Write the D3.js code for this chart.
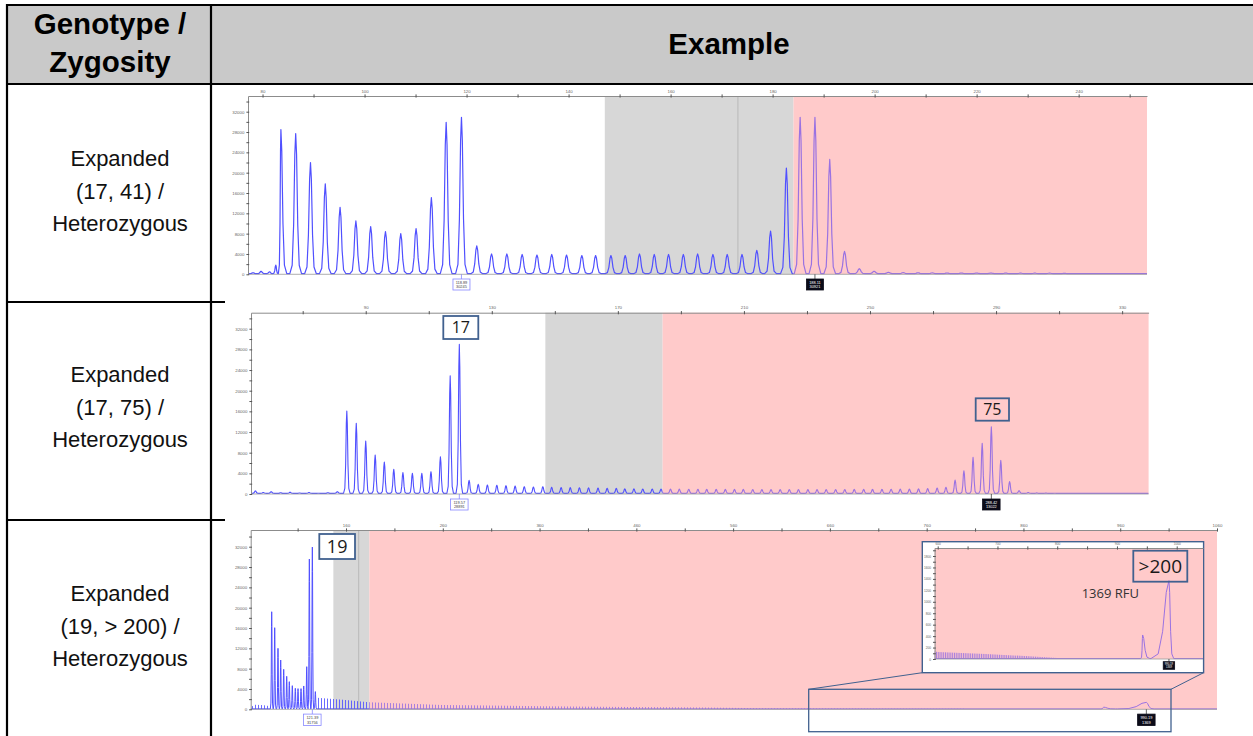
<!DOCTYPE html>
<html lang="en">
<head>
<meta charset="UTF-8">
<title>Genotype / Zygosity examples</title>
<script src="https://cdn.jsdelivr.net/npm/d3@7"></script>
<style>
  body { margin: 0; background: #fff; }
  svg { display: block; font-family: "Liberation Sans", Arial, sans-serif; }
</style>
</head>
<body>
<svg id="chart" width="1253" height="736"></svg>
<script>
// ---------- table text ----------
const headerLeft = ['Genotype /', 'Zygosity'];
const headerRight = 'Example';
const genotypes = [
  ['Expanded', '(17, 41) /', 'Heterozygous'],
  ['Expanded', '(17, 75) /', 'Heterozygous'],
  ['Expanded', '(19, > 200) /', 'Heterozygous']
];

// ---------- panel 1 : (17, 41) ----------  [size, RFU]
const peaks1 = [
  [78.2, 300], [79.7, 600], [81.4, 500], [82.6, 1800], [83.6, 28500], [86.5, 27700], [89.4, 22000],
  [92.3, 17800], [95.2, 13200], [98.3, 10500], [101.2, 9400], [104.1, 8400], [107.1, 8000],
  [110.1, 9000], [113.1, 15100], [116.0, 29900], [119.0, 30900], [122.0, 5600], [124.9, 4000],
  [127.9, 4000], [130.9, 3900], [133.8, 3800], [136.7, 3900], [139.6, 3800], [142.6, 3700],
  [145.3, 3700], [148.3, 3700], [151.1, 3700], [153.9, 4000], [156.8, 3900], [159.6, 3900],
  [162.5, 3900], [165.3, 4000], [168.3, 3900], [171.1, 3900], [174.0, 3900], [176.9, 4700],
  [179.6, 8500], [182.7, 20900], [185.4, 30900], [188.3, 30900], [191.2, 22600], [194.1, 4500],
  [197.0, 1100], [199.9, 600], [202.7, 400], [205.6, 330], [208.5, 300], [211.3, 280], [214.2, 260],
  [217.0, 260], [220.0, 250], [222.8, 250], [225.7, 240], [228.6, 230], [231.4, 230], [234.3, 220],
  [237.2, 210]
];
const xLabels1 = [80, 100, 120, 140, 160, 180, 200, 220, 240];
const xTicks1 = [80, 90, 100, 110, 120, 130, 140, 150, 160, 170, 180, 190, 200, 210, 220, 230, 240, 250];
const gray1 = [147.1, 184.1];
const grayLine1 = 173.2;
const calls1 = [
  { at: 119.0, lines: ['118.89', '30245'], dark: false },
  { at: 188.3, lines: ['188.11', '30921'], dark: true }
];

// ---------- panel 2 : (17, 75) ----------
const peaks2 = [
  [55, 600], [57.5, 300], [60, 450], [63, 250], [66, 350], [69, 200], [72, 300], [75, 150], [78, 250],
  [81, 450], [84.0, 16060], [87.0, 13670], [90.0, 10250], [93.0, 7550], [95.9, 6190], [98.9, 4770],
  [101.8, 4130], [104.8, 4000], [107.8, 4000], [110.7, 4320], [113.7, 7220], [116.8, 22900],
  [119.7, 28960], [122.8, 2640], [125.7, 1870], [128.6, 1740], [131.6, 1680], [134.5, 1610],
  [137.4, 1550], [140.3, 1420], [143.2, 1350], [146.2, 1420], [149.0, 1290], [152.0, 1250],
  [154.9, 1230], [157.8, 1200], [160.7, 1180], [163.7, 1150], [166.6, 1120], [169.5, 1080],
  [172.2, 1000], [175.1, 980], [177.9, 970], [180.9, 960], [183.7, 950], [186.7, 940], [189.5, 930],
  [192.5, 920], [195.4, 910], [198.2, 900], [201.2, 900], [204.1, 890], [207.0, 880], [209.8, 880],
  [212.8, 870], [215.7, 870], [218.6, 860], [221.5, 860], [224.4, 860], [227.3, 850], [230.3, 850],
  [233.2, 850], [236.1, 860], [239.1, 860], [242.0, 870], [245.0, 880], [248.0, 880], [250.8, 900],
  [253.8, 900], [256.7, 920], [259.6, 930], [262.5, 950], [265.4, 1000], [268.3, 1050], [271.3, 1150],
  [274.1, 1300], [277.0, 2700], [279.8, 4500], [282.7, 7100], [285.6, 9800], [288.5, 13000],
  [291.5, 6500], [294.3, 2400], [297.3, 650], [300.2, 300], [302.9, 220], [305.8, 180], [308.6, 150]
];
const xLabels2 = [90, 130, 170, 210, 250, 290, 330];
const xTicks2 = [70, 90, 110, 130, 150, 170, 190, 210, 230, 250, 270, 290, 310, 330];
const gray2 = [147.0, 184.2];
const calls2 = [
  { at: 119.7, lines: ['119.57', '28891'], dark: false },
  { at: 288.5, lines: ['288.42', '13022'], dark: true }
];

// ---------- panel 3 : (19, >200) ----------
const peaks3 = [
  [83.2, 19200], [86.3, 16060], [89.7, 12000], [92.5, 9700], [95.6, 7870], [98.7, 6490],
  [101.4, 5440], [104.5, 4650], [107.6, 4130], [110.4, 4070], [113.5, 4070], [116.3, 4590],
  [119.4, 8390], [122.1, 29570], [125.2, 31930], [128.3, 3480],
  [943, 420, 3, 12], [987, 1369, 30, 8]
];
// stutter ladder envelope (too dense to read peak by peak)
const noise3 = [[62, 0], [63, 500], [66, 800], [72, 750], [78, 650], [81, 450], [82, 0]];
const ladder3 = [
  [129.5, 0], [130, 2200], [157, 1800], [184, 1300], [260, 750], [364, 520], [453, 380], [530, 260],
  [600, 115], [680, 80], [760, 35], [800, 10], [801, 0]
];
const xLabels3 = [160, 260, 360, 460, 560, 660, 760, 860, 960, 1060];
const xTicks3 = [110, 160, 210, 260, 310, 360, 410, 460, 510, 560, 610, 660, 710, 760, 810, 860, 910, 960, 1010, 1060];
const gray3 = [146.9, 184.1];
const grayLine3 = 173.1;
const calls3 = [
  { at: 125.2, lines: ['121.39', '31756'], dark: false },
  { at: 987, lines: ['990.19', '1369'], dark: true }
];
const xLabelsInset = [600, 700, 800, 900, 1000];
const xTicksInset = [600, 650, 700, 750, 800, 850, 900, 950, 1000];
const yLabelsInset = [0, 200, 400, 600, 800, 1000, 1200, 1400, 1600, 1800];
const yTicksInset = d3.range(0, 1901, 100);
const callsInset = [{ at: 987, lines: ['990.19', '1369'], dark: true }];

const yLabels = [0, 4000, 8000, 12000, 16000, 20000, 24000, 28000, 32000];
const yTicks = d3.range(0, 34001, 2000);

const alleleBoxes = ['17', '75', '19', '>200'];
const rfuNote = '1369 RFU';

// ---------- drawing ----------
const PINK = '#ffcaca', GRAY = '#d7d7d7', BLUE = '#5050ff', PURPLE = '#9a72e2', BOX = '#41618f';
const PEAK_SHAPE = [[-1, 0], [-0.6, 0.06], [-0.35, 0.35], [-0.15, 0.85], [0, 1],
                    [0.15, 0.85], [0.35, 0.35], [0.6, 0.06], [1, 0]];

const svg = d3.select('#chart');
const defs = svg.append('defs');
let clipId = 0;

function comb(id, color, step) {
  const p = defs.append('pattern').attr('id', id).attr('patternUnits', 'userSpaceOnUse')
    .attr('width', step).attr('height', 20);
  p.append('rect').attr('width', 1).attr('height', 20).attr('fill', color);
}
comb('comb-blue', BLUE, 3);
comb('comb-purple', PURPLE, 3);
comb('comb-purple-fine', PURPLE, 1.8);

function clipRect(x0, y0, x1, y1) {
  const id = 'clip' + (clipId++);
  defs.append('clipPath').attr('id', id).append('rect')
    .attr('x', x0).attr('y', y0).attr('width', x1 - x0).attr('height', y1 - y0);
  return `url(#${id})`;
}

function tracePoints(peaks, w, base, dom) {
  const pts = [[dom[0], base]];
  peaks.forEach((p, i) => {
    const pos = p[0], h = p[1];
    const prev = i ? peaks[i - 1][0] : -Infinity;
    const next = i < peaks.length - 1 ? peaks[i + 1][0] : Infinity;
    const L = p[2] !== undefined ? p[2] : Math.min(w, (pos - prev) / 2);
    const R = p[3] !== undefined ? p[3] : Math.min(w, (next - pos) / 2);
    PEAK_SHAPE.forEach(([f, k]) => pts.push([pos + f * (f < 0 ? L : R), base + (h - base) * k]));
  });
  pts.push([dom[1], base]);
  return pts;
}

function styleAxis(ax, fs) {
  ax.attr('font-family', null).attr('font-size', null);
  ax.select('.domain').attr('stroke', '#8c8c8c');
  ax.selectAll('.tick line').attr('stroke', '#555');
  ax.selectAll('.tick text').attr('font-size', fs).attr('fill', '#666');
}

function drawPanel(c) {
  const g = svg.append('g');
  const x = d3.scaleLinear().domain(c.xDomain).range([c.left, c.right]);
  const y = d3.scaleLinear().domain([0, c.yMax]).range([c.bottom, c.top]);
  const h = c.bottom - c.top;

  if (c.gray) g.append('rect').attr('x', x(c.gray[0])).attr('y', c.top)
    .attr('width', x(c.gray[1]) - x(c.gray[0])).attr('height', h).attr('fill', GRAY);
  if (c.grayLine) g.append('line').attr('x1', x(c.grayLine)).attr('x2', x(c.grayLine))
    .attr('y1', c.top).attr('y2', c.bottom).attr('stroke', '#b8b8b8');
  const pinkX = x(c.pinkFrom);
  g.append('rect').attr('x', pinkX).attr('y', c.top).attr('width', c.right - pinkX)
    .attr('height', h).attr('fill', PINK);

  const clips = [
    [clipRect(c.left, c.top - 2, pinkX, c.bottom + 1), BLUE, 'comb-blue'],
    [clipRect(pinkX, c.top - 2, c.right, c.bottom + 1), PURPLE, c.combPink || 'comb-purple']
  ];
  const area = d3.area().x(d => x(d[0])).y0(y(c.base)).y1(d => y(c.base + d[1]));
  const line = d3.line().x(d => x(d[0])).y(d => y(d[1]));
  const pts = tracePoints(c.peaks, c.width, c.base, c.xDomain);

  clips.forEach(([clip, color, pat]) => {
    const cg = g.append('g').attr('clip-path', clip);
    (c.envelopes || []).forEach(env => cg.append('path').attr('d', area(env))
      .attr('fill', `url(#${pat})`).attr('opacity', 0.85));
    cg.append('path').attr('d', line(pts)).attr('fill', 'none')
      .attr('stroke', c.inset ? PURPLE : color).attr('stroke-width', c.stroke).attr('stroke-linejoin', 'round');
  });

  // frame lines
  g.append('line').attr('x1', c.left).attr('x2', c.right).attr('y1', c.bottom).attr('y2', c.bottom)
    .attr('stroke', '#9a9a9a').attr('stroke-width', 0.8);

  const ax = g.append('g').attr('transform', `translate(0,${c.top})`)
    .call(d3.axisTop(x).tickValues(c.xTicks).tickSize(1.6).tickSizeOuter(0).tickPadding(1.8)
      .tickFormat(d => c.xLabels.includes(d) ? d : ''));
  styleAxis(ax, c.fs);
  ax.selectAll('.tick line').attr('y2', 1.6).attr('y1', -1.6);

  const ay = g.append('g').attr('transform', `translate(${c.left},0)`)
    .call(d3.axisLeft(y).tickValues(c.yTicks).tickSize(1.6).tickSizeOuter(0).tickPadding(2)
      .tickFormat(d => c.yLabels.includes(d) ? d : ''));
  styleAxis(ay, c.fs);
  ay.selectAll('.tick line').attr('x1', 1.2).attr('x2', -1.6);

  // size / height call-outs under the peaks
  c.calls.forEach(k => {
    const cx = x(k.at), bw = c.callW, bh = c.callH, by = c.bottom + c.callGap;
    g.append('line').attr('x1', cx).attr('x2', cx).attr('y1', c.bottom).attr('y2', by)
      .attr('stroke', k.dark ? '#222' : '#7777ff').attr('stroke-width', 0.7);
    g.append('rect').attr('x', cx - bw / 2).attr('y', by).attr('width', bw).attr('height', bh)
      .attr('fill', k.dark ? '#0b0b18' : '#fff').attr('stroke', k.dark ? '#0b0b18' : '#8888ff')
      .attr('stroke-width', 0.8);
    g.append('text').attr('x', cx).attr('y', by + bh * 0.44).attr('text-anchor', 'middle')
      .attr('font-size', c.callFs).attr('fill', k.dark ? '#fff' : '#444')
      .selectAll('tspan').data(k.lines).join('tspan')
      .attr('x', cx).attr('dy', (d, i) => i ? bh * 0.42 : 0).text(d => d);
  });
  return { g, x, y };
}

function alleleBox(x0, y0, x1, y1, label, fs, fill) {
  svg.append('rect').attr('x', x0).attr('y', y0).attr('width', x1 - x0).attr('height', y1 - y0)
    .attr('fill', fill).attr('stroke', BOX).attr('stroke-width', 1.8);
  svg.append('text').attr('x', (x0 + x1) / 2).attr('y', (y0 + y1) / 2 + fs * 0.36)
    .attr('text-anchor', 'middle').attr('font-family', '"Open Sans", "Noto Sans", sans-serif')
    .attr('font-size', fs).attr('fill', '#1a1a1a').text(label);
}

// ---------- table ----------
svg.append('rect').attr('x', 7).attr('y', 5).attr('width', 1246).attr('height', 79).attr('fill', '#c9c9c9');
const tableLines = [
  [6, 5, 1253, 5], [6, 84, 1253, 84], [7, 4, 7, 736], [211, 4, 211, 736],
  [6, 302, 225, 302], [6, 520, 225, 520]
];
svg.selectAll('line.tbl').data(tableLines).join('line').attr('class', 'tbl')
  .attr('x1', d => d[0]).attr('y1', d => d[1]).attr('x2', d => d[2]).attr('y2', d => d[3])
  .attr('stroke', '#000').attr('stroke-width', 2.2);

svg.selectAll('text.hl').data(headerLeft).join('text').attr('class', 'hl')
  .attr('x', 110).attr('y', (d, i) => 34 + i * 38).attr('text-anchor', 'middle')
  .attr('font-weight', 'bold').attr('font-size', 29.5).text(d => d);
svg.append('text').attr('x', 729).attr('y', 54).attr('text-anchor', 'middle')
  .attr('font-weight', 'bold').attr('font-size', 29.5).text(headerRight);

const rowTextTop = [166, 382, 601];
genotypes.forEach((lines, r) => {
  svg.selectAll(null).data(lines).join('text')
    .attr('x', 120).attr('y', (d, i) => rowTextTop[r] + i * 32.5).attr('text-anchor', 'middle')
    .attr('font-size', 22).attr('fill', '#111').text(d => d);
});

// ---------- charts ----------
drawPanel({
  left: 248, right: 1147, top: 96, bottom: 274.3, xDomain: [77.15, 253.4], yMax: 35090,
  peaks: peaks1, width: 1.15, base: 120, stroke: 1.2, gray: gray1, grayLine: grayLine1, pinkFrom: gray1[1],
  xLabels: xLabels1, xTicks: xTicks1, yLabels, yTicks: yTicks.filter(v => v <= 34000), fs: 4.4,
  calls: calls1, callW: 17, callH: 11, callGap: 4.7, callFs: 3.9
});

drawPanel({
  left: 251, right: 1148.6, top: 312.7, bottom: 494, xDomain: [53.6, 338.4], yMax: 35100,
  peaks: peaks2, width: 1.05, base: 120, stroke: 1.1, gray: gray2, pinkFrom: gray2[1],
  xLabels: xLabels2, xTicks: xTicks2, yLabels, yTicks: yTicks.filter(v => v <= 34000), fs: 4.4,
  calls: calls2, callW: 17.5, callH: 11, callGap: 5, callFs: 3.9
});
alleleBox(443.3, 316, 478.3, 339, alleleBoxes[0], 16, '#fff');
alleleBox(975.7, 398.3, 1009, 420.7, alleleBoxes[1], 16, 'none');

drawPanel({
  left: 250.7, right: 1217, top: 530, bottom: 709.3, xDomain: [61.5, 1060], yMax: 35290,
  peaks: peaks3, width: 1.4, base: 80, stroke: 1.0, gray: gray3, grayLine: grayLine3, pinkFrom: gray3[1],
  envelopes: [noise3, ladder3],
  xLabels: xLabels3, xTicks: xTicks3, yLabels, yTicks: yTicks.filter(v => v <= 34000), fs: 4.4,
  calls: calls3, callW: 17.5, callH: 11.5, callGap: 4.8, callFs: 3.9
});
alleleBox(319.3, 534, 355, 559, alleleBoxes[2], 18, '#fff');

// zoom window and connectors
const zoomRect = [808.7, 689.3, 1171, 731.7], insetFrame = [922.3, 541.7, 1203.6, 672.7];
svg.append('rect').attr('x', zoomRect[0]).attr('y', zoomRect[1])
  .attr('width', zoomRect[2] - zoomRect[0]).attr('height', zoomRect[3] - zoomRect[1])
  .attr('fill', 'none').attr('stroke', BOX).attr('stroke-width', 1.3);
[[zoomRect[0], insetFrame[0]], [zoomRect[2], insetFrame[2]]].forEach(([a, b]) =>
  svg.append('line').attr('x1', a).attr('y1', zoomRect[1]).attr('x2', b).attr('y2', insetFrame[3])
    .attr('stroke', BOX).attr('stroke-width', 1));
svg.append('rect').attr('x', insetFrame[0]).attr('y', insetFrame[1])
  .attr('width', insetFrame[2] - insetFrame[0]).attr('height', insetFrame[3] - insetFrame[1])
  .attr('fill', '#fff').attr('stroke', BOX).attr('stroke-width', 1.4);

drawPanel({
  left: 934.6, right: 1203, top: 548, bottom: 659, xDomain: [594.8, 1044], yMax: 1940,
  peaks: peaks3.filter(p => p[0] > 594.8), width: 1.4, base: 8, stroke: 1.0, pinkFrom: 594.8,
  inset: true, envelopes: [ladder3], combPink: 'comb-purple-fine',
  xLabels: xLabelsInset, xTicks: xTicksInset, yLabels: yLabelsInset, yTicks: yTicksInset, fs: 3.2,
  calls: callsInset, callW: 11.4, callH: 7.6, callGap: 2.7, callFs: 2.7
});
alleleBox(1133.3, 550.7, 1187.3, 581.7, alleleBoxes[3], 19, 'none');
svg.append('text').attr('x', 1081.7).attr('y', 598).attr('font-family', '"Open Sans", "Noto Sans", sans-serif')
  .attr('font-size', 13).attr('fill', '#333').text(rfuNote);
</script>
</body>
</html>
